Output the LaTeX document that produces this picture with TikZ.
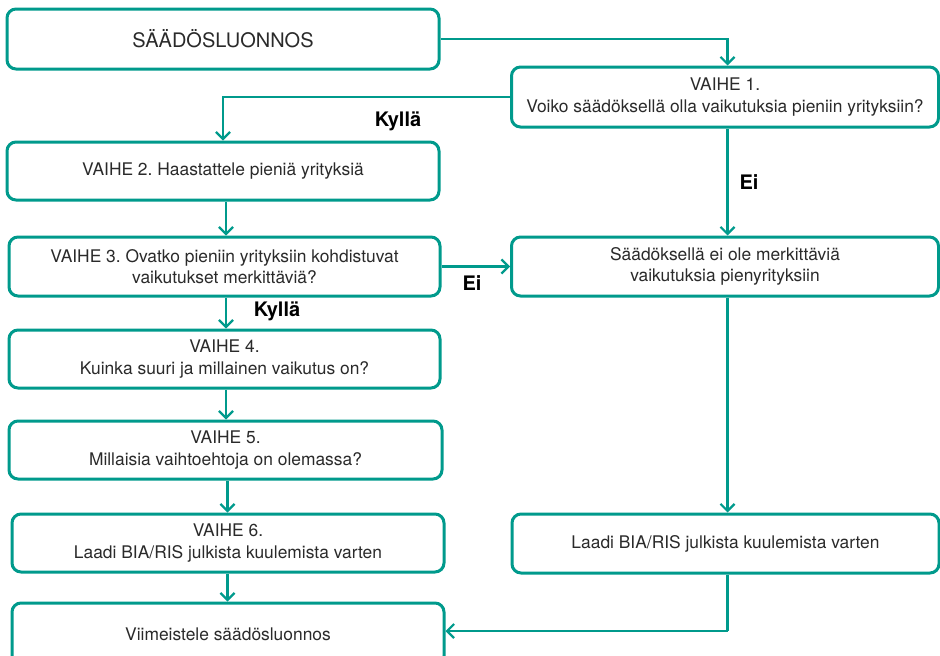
\documentclass[tikz,border=0pt]{standalone}
\usepackage{fontspec}
\setmainfont{TeX Gyre Heros}
\frenchspacing
\usetikzlibrary{arrows.meta,calc}
\definecolor{teal1}{HTML}{009A8C}
\definecolor{txt}{HTML}{2A2A2A}
\begin{document}
\begin{tikzpicture}[x=1pt,y=-1pt,
  box/.style={draw=teal1,line width=3pt,rounded corners=9pt,fill=white,
    text=txt,align=center,inner sep=0pt,font=\fontsize{17.4}{21.5}\selectfont},
  conn/.style={draw=teal1,line width=2.6pt,
    -{Straight Barb[length=7pt,width=14pt,line width=2.2pt]}},
  link/.style={draw=teal1,line width=2.6pt},
  lbl/.style={font=\fontsize{20}{22}\selectfont\bfseries,text=black}]
\useasboundingbox (0,0) rectangle (940,656);

% boxes: left column
\node[box,minimum width=432pt,minimum height=60pt,font=\fontsize{20}{22}\selectfont] (draft) at (223,39) {SÄÄDÖSLUONNOS};
\node[box,minimum width=432pt,minimum height=58pt] (s2) at (223,171) {VAIHE 2. Haastattele pieniä yrityksiä};
\node[box,minimum width=431pt,minimum height=59pt] (s3) at (224.5,266.5) {VAIHE 3. Ovatko pieniin yrityksiin kohdistuvat\\vaikutukset merkittäviä?};
\node[box,minimum width=431pt,minimum height=58pt] (s4) at (224.5,359) {VAIHE 4.\\Kuinka suuri ja millainen vaikutus on?};
\node[box,minimum width=433pt,minimum height=58pt] (s5) at (225.5,450) {VAIHE 5.\\Millaisia vaihtoehtoja on olemassa?};
\node[box,minimum width=432pt,minimum height=58pt] (s6) at (228,543) {VAIHE 6.\\Laadi BIA/RIS julkista kuulemista varten};
\node[box,minimum width=432pt,minimum height=62pt] (fin) at (228,634) {Viimeistele säädösluonnos};

% boxes: right column
\node[box,minimum width=427pt,minimum height=60pt] (s1) at (725,97) {VAIHE 1.\\Voiko säädöksellä olla vaikutuksia pieniin yrityksiin?};
\node[box,minimum width=427pt,minimum height=59pt] (noeff) at (725,266.5) {Säädöksellä ei ole merkittäviä\\vaikutuksia pienyrityksiin};
\node[box,minimum width=427pt,minimum height=59pt] (laadi) at (725.5,543.5) {Laadi BIA/RIS julkista kuulemista varten};

% column positions of the vertical connectors
\coordinate (cl) at (226,0);
\coordinate (cf) at (227.5,0);
\coordinate (cr) at (727.5,0);
\coordinate (turn) at (727.5,631);

% connectors
\draw[conn] (draft.east) -| (s1.north -| cr);
\draw[conn] (s1.west) -| (s2.north);
\draw[conn] (s2.south -| cl) -- (s3.north -| cl);
\draw[conn] (s3.east) -- (noeff.west);
\draw[conn] (s1.south -| cr) -- (noeff.north -| cr);
\draw[conn] (s3.south -| cl) -- (s4.north -| cl);
\draw[conn] (s4.south -| cl) -- (s5.north -| cl);
\draw[conn] (s5.south -| cf) -- (s6.north -| cf);
\draw[conn] (s6.south -| cf) -- (fin.north -| cf);
\draw[conn] (noeff.south -| cr) -- (laadi.north -| cr);
\draw[link] (laadi.south -| turn) -- (turn);
\draw[conn] (turn) -- (fin.east |- turn);

% branch labels
\node[lbl] (ky1) at (398,121) {Kyllä};
\node[lbl] (ei1) at (749,182) {Ei};
\node[lbl] (ei2) at (472,283) {Ei};
\node[lbl] (ky2) at (277,311) {Kyllä};
\end{tikzpicture}
\end{document}
